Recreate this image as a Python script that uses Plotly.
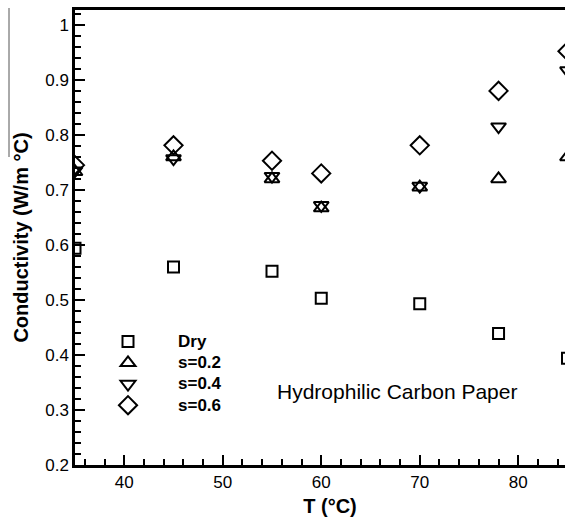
import plotly.graph_objects as go

T = [35, 45, 55, 60, 70, 78, 85]
dry = [0.594, 0.560, 0.552, 0.503, 0.493, 0.439, 0.394]
s02 = [0.733, 0.760, 0.720, 0.667, 0.705, 0.720, 0.760]
s04 = [0.735, 0.757, 0.725, 0.672, 0.707, 0.815, 0.917]
s06 = [0.745, 0.781, 0.753, 0.730, 0.781, 0.880, 0.952]

series = [
    ("Dry", dry, "square-open", 11),
    ("s=0.2", s02, "triangle-up-open", 13),
    ("s=0.4", s04, "triangle-down-open", 13),
    ("s=0.6", s06, "diamond-open", 14),
]

FONT = "Liberation Sans, Arial, sans-serif"

fig = go.Figure()
for name, vals, sym, sz in series:
    fig.add_trace(go.Scatter(
        x=T, y=vals, mode="markers",
        name='<span style="font-size:17px"><b>' + name + "</b></span>",
        marker=dict(symbol=sym, size=sz, color="black", line=dict(color="black", width=2)),
    ))

axis_common = dict(
    showgrid=False, zeroline=False, showline=True, linecolor="black", linewidth=2.5,
    ticks="inside", ticklen=10, tickwidth=2, tickcolor="black", automargin=False,
    tickfont=dict(family=FONT, size=17, color="black"),
)

# plot area: left 75px, top 10px, bottom 465px; 9.85 px per degree
FIG_W = 585
x_end = 35 + (FIG_W - 75) / 9.85

fig.update_xaxes(
    range=[35, x_end], dtick=10, tick0=40, mirror=True,
    minor=dict(dtick=2, ticks="inside", ticklen=6, tickwidth=1.5, tickcolor="black"),
    title=dict(text="<b>T (°C)</b>", font=dict(family=FONT, size=20, color="black"), standoff=8),
    **axis_common,
)
fig.update_yaxes(
    range=[0.2, 1.027], dtick=0.1, tick0=0.2, tickformat="~g",
    minor=dict(dtick=0.02, ticks="inside", ticklen=6, tickwidth=1.5, tickcolor="black"),
    title=dict(text="<b>Conductivity (W/m °C)</b>", font=dict(family=FONT, size=20, color="black"), standoff=12),
    **axis_common,
)

fig.add_annotation(
    text="Hydrophilic Carbon Paper", xref="paper", yref="paper",
    x=(397 - 75) / (FIG_W - 75), y=(465 - 405) / 455, showarrow=False,
    font=dict(family=FONT, size=21, color="black"),
)

fig.add_shape(type="line", xref="paper", yref="paper",
              x0=(9 - 75) / (FIG_W - 75), x1=(9 - 75) / (FIG_W - 75),
              y0=(465 - 8) / 455, y1=(465 - 157) / 455,
              line=dict(color="#555555", width=1))

fig.update_layout(
    width=FIG_W, height=517,
    margin=dict(l=75, r=0, t=10, b=52),
    paper_bgcolor="white", plot_bgcolor="white",
    showlegend=True,
    legend=dict(
        x=(78 - 75) / (FIG_W - 75), y=(465 - 326) / 455, xanchor="left", yanchor="top",
        bgcolor="rgba(0,0,0,0)", font=dict(family=FONT, size=14, color="black"),
        itemwidth=90, tracegroupgap=0,
    ),
)

fig.write_html(
    "out.html",
    config={"displayModeBar": False},
    post_script="document.body.style.margin='0';document.body.style.overflow='hidden';"
                "document.documentElement.style.overflow='hidden';",
)
